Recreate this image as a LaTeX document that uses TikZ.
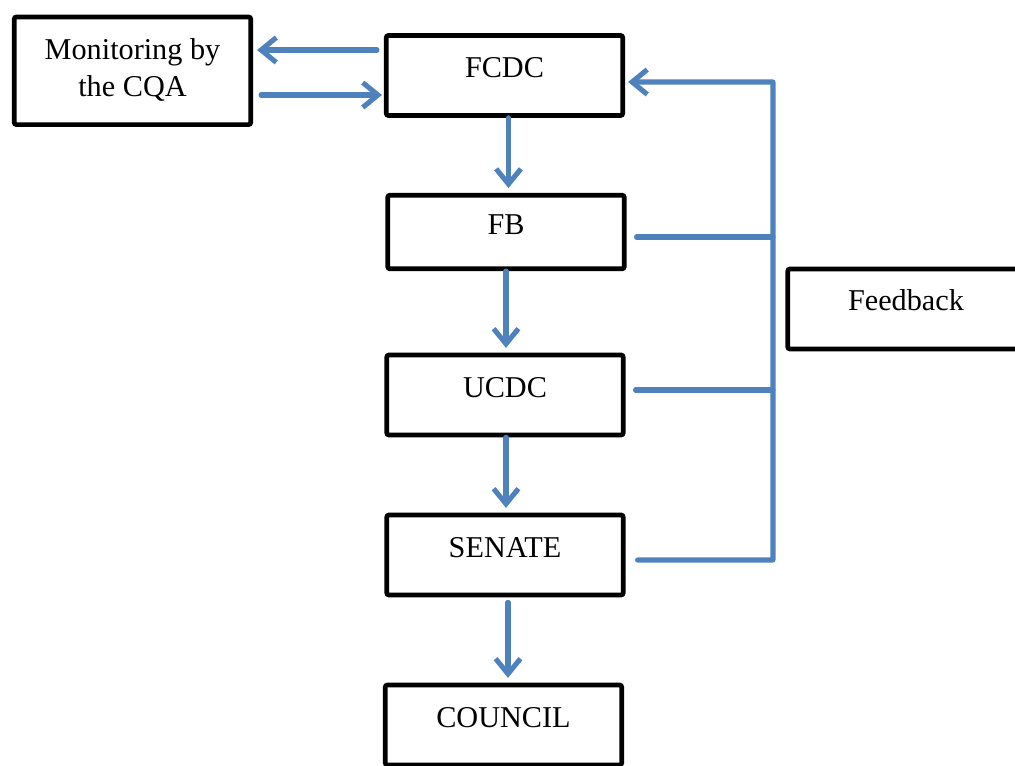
\documentclass[tikz,border=0pt]{standalone}
\usepackage{fontspec}
\setmainfont{Liberation Serif}
\usetikzlibrary{positioning,calc,arrows.meta}
\definecolor{flowblue}{HTML}{4F81BD}
\tikzset{box/.style={draw,line width=3.3pt,rounded corners=1.5pt,inner sep=0pt,
    minimum width=5.91cm,minimum height=2cm,text height=1.05cm,text depth=0.95cm,
    font=\fontsize{21.5}{26.2}\selectfont}}
\tikzset{flow/.style={draw=flowblue,line width=3.6pt,line cap=round,line join=round}}
\tikzset{arr/.style={flow,-{Straight Barb[length=0.38cm,width=0.62cm]}}}

\begin{document}
\begin{tikzpicture}[x=0.025cm,y=-0.025cm]
  \useasboundingbox (0,0) rectangle (1015,765);
  % boxes
  \node[box,align=center,minimum height=2.69cm,text height=1.99cm,text depth=0.7cm]
    (mon) at (132.5,70.75) {Monitoring by\\the CQA};
  \node[box] (fcdc) at (504.5,75.5) {FCDC};
  \node[box,minimum height=1.84cm,text height=0.98cm,text depth=0.86cm] (fb) at (506,232) {FB};
  \node[box] (ucdc) at (505,395) {UCDC};
  \node[box] (senate) at (505,555) {SENATE};
  \node[box] (council) at (503.5,725) {COUNCIL};
  \node[box,text height=1.03cm,text depth=0.97cm] (fbk) at (906,309) {Feedback};
  % monitoring loop
  \draw[arr] ($(fcdc.west)+(-7,-25.5)$) -- ($(mon.east)+(4,-20.75)$);
  \draw[arr] ($(mon.east)+(8,24.25)$) -- ($(fcdc.west)+(-2,19.5)$);
  % main flow
  \draw[arr,shorten >=0.12cm] ($(fcdc.south)+(4,0)$) coordinate (a1) -- (a1 |- fb.north);
  \draw[arr,shorten >=0.12cm] ($(fb.south)+(0,0)$) coordinate (a2) -- (a2 |- ucdc.north);
  \draw[arr,shorten >=0.12cm] ($(ucdc.south)+(1,0)$) coordinate (a3) -- (a3 |- senate.north);
  \draw[arr,shorten >=0.12cm] ($(senate.south)+(3,5)$) coordinate (a4) -- (a4 |- council.north);
  % feedback
  \coordinate (bus) at (773,82);
  \draw[arr] ($(senate.east)+(12,5)$) -| (bus) -- ($(fcdc.east)+(3,6.5)$);
  \draw[flow] ($(fb.east)+(10,5)$) coordinate (b1) -- (b1 -| bus);
  \draw[flow] ($(ucdc.east)+(10,-5)$) coordinate (b2) -- (b2 -| bus);
\end{tikzpicture}
\end{document}
